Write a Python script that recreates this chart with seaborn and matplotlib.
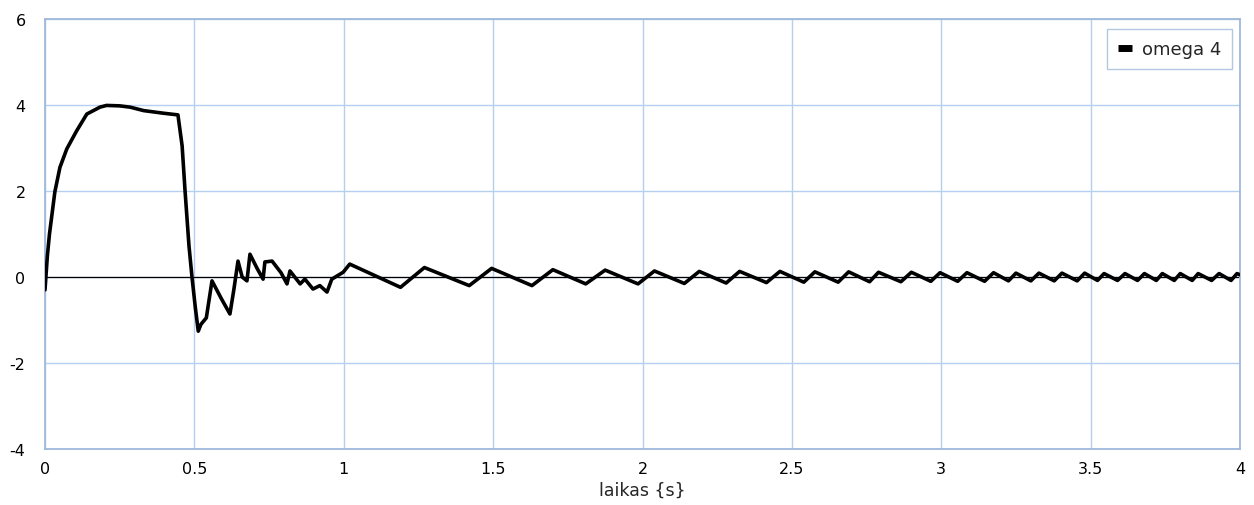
import matplotlib
matplotlib.use("Agg")
import matplotlib.pyplot as plt
import seaborn as sns
import pandas as pd

# time samples (s) and angular velocity omega 4
t_start = [0.0, 0.008, 0.015, 0.033, 0.05, 0.073, 0.106, 0.14, 0.184, 0.206, 0.25,
           0.285, 0.33, 0.395, 0.445]
v_start = [-0.3, 0.5, 1.0, 1.98, 2.55, 2.98, 3.4, 3.79, 3.95, 3.99, 3.98,
           3.95, 3.87, 3.81, 3.77]

t_drop = [0.459, 0.469, 0.482, 0.492, 0.503, 0.513, 0.522, 0.54, 0.559, 0.59,
          0.619, 0.632, 0.646, 0.66, 0.676, 0.686, 0.71, 0.73, 0.736, 0.76,
          0.79, 0.81, 0.82, 0.854, 0.87, 0.897, 0.92, 0.944, 0.96, 0.998]
v_drop = [3.05, 1.98, 0.72, 0.0, -0.7, -1.26, -1.1, -0.95, -0.09, -0.5,
          -0.86, -0.3, 0.37, 0.0, -0.09, 0.53, 0.2, -0.05, 0.35, 0.37,
          0.1, -0.16, 0.14, -0.16, -0.05, -0.28, -0.2, -0.35, -0.05, 0.11]

t_osc = [1.02, 1.19, 1.27, 1.42, 1.495, 1.63, 1.70, 1.81, 1.875, 1.985,
         2.04, 2.14, 2.19, 2.28, 2.325, 2.415, 2.46, 2.54, 2.577, 2.655,
         2.69, 2.76, 2.79, 2.865, 2.90, 2.965, 2.996, 3.055, 3.086, 3.145,
         3.175, 3.225, 3.25, 3.30, 3.327, 3.378, 3.404, 3.455, 3.48, 3.523,
         3.545, 3.59, 3.615, 3.657, 3.68, 3.72, 3.74, 3.78, 3.80, 3.84,
         3.86, 3.905, 3.93, 3.97, 3.99, 4.0]
v_osc = [0.3, -0.24, 0.22, -0.2, 0.2, -0.2, 0.17, -0.16, 0.16, -0.16,
         0.14, -0.15, 0.13, -0.14, 0.13, -0.13, 0.13, -0.12, 0.12, -0.12,
         0.12, -0.11, 0.11, -0.11, 0.11, -0.1, 0.1, -0.1, 0.1, -0.1,
         0.1, -0.09, 0.09, -0.09, 0.09, -0.09, 0.09, -0.09, 0.09, -0.08,
         0.08, -0.08, 0.08, -0.08, 0.08, -0.08, 0.08, -0.08, 0.08, -0.08,
         0.08, -0.08, 0.08, -0.08, 0.08, 0.05]

x_ticks = [0, 0.5, 1, 1.5, 2, 2.5, 3, 3.5, 4]
x_tick_labels = ["0", "0.5", "1", "1.5", "2", "2.5", "3", "3.5", "4"]
y_ticks = [-4, -2, 0, 2, 4, 6]
y_tick_labels = ["-4", "-2", "0", "2", "4", "6"]

df = pd.DataFrame({
    "t": t_start + t_drop + t_osc,
    "omega": v_start + v_drop + v_osc,
    "series": "omega 4",
})

sns.set_style("white")
plt.rcParams["font.family"] = ["DejaVu Sans"]

grid_c = "#b4cff0"
frame_c = "#9fb9dc"

fig = plt.figure(figsize=(12.54, 5.06), dpi=100)
ax = fig.add_axes([45 / 1254, 56 / 506, 1195 / 1254, 430 / 506])

ax.axhline(0, color="black", lw=0.9, zorder=2)
sns.lineplot(data=df, x="t", y="omega", hue="series", palette=["black"],
             sort=False, estimator=None, lw=2.6, ax=ax, zorder=3)

ax.set_xlim(0, 4)
ax.set_ylim(-4, 6)
ax.set_xticks(x_ticks)
ax.set_xticklabels(x_tick_labels)
ax.set_yticks(y_ticks)
ax.set_yticklabels(y_tick_labels)
ax.tick_params(axis="both", length=0, labelsize=11.5, colors="black")
ax.tick_params(axis="x", pad=9)
ax.tick_params(axis="y", pad=14)
ax.grid(True, color=grid_c, lw=1.0)
ax.set_axisbelow(True)
for s in ax.spines.values():
    s.set_color(frame_c)
    s.set_linewidth(1.3)

ax.set_xlabel("laikas {s}", fontsize=12.5, labelpad=3)
ax.set_ylabel("")

leg = ax.legend(loc="upper right", bbox_to_anchor=(1 - 8 / 1195, 1 - 10 / 430),
                borderaxespad=0, frameon=True, fancybox=False, fontsize=13,
                handlelength=0.75, handletextpad=0.55, borderpad=0.6)
leg.get_frame().set_edgecolor(frame_c)
leg.get_frame().set_linewidth(1.0)
for h in leg.get_lines():
    h.set_linewidth(5)
    h.set_solid_capstyle("butt")

fig.savefig("out.png", dpi=100)
